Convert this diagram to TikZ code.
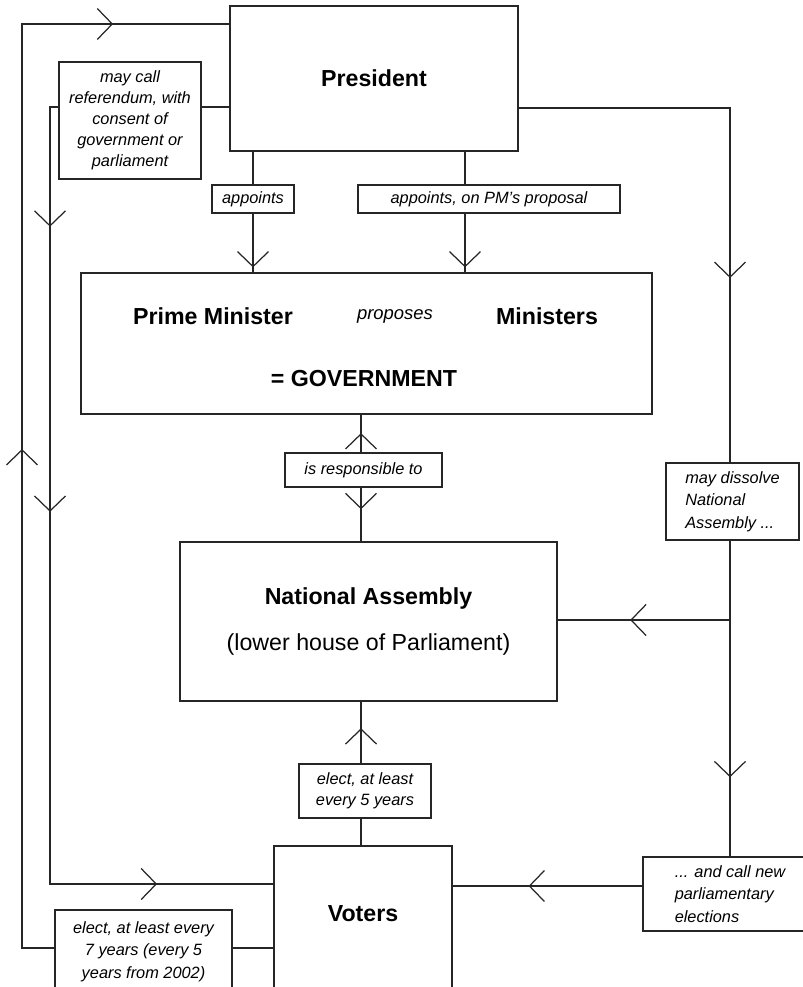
\documentclass[tikz,border=0pt]{standalone}
\usepackage{fontspec}
\setmainfont{Liberation Sans}
\usetikzlibrary{arrows.meta, decorations.markings}

\tikzset{
  box/.style={draw=black!85, line width=1.1pt, rectangle, inner sep=0pt, fill=white},
  big/.style={font=\fontsize{13.2}{16}\selectfont\bfseries},
  lbl/.style={draw=black!85, line width=1.1pt, fill=white, inner sep=2pt, align=center,
              font=\fontsize{9.3}{12}\selectfont\itshape},
  lbl wide/.style={lbl, font=\fontsize{9.3}{12.8}\selectfont\itshape},
  link/.style={draw=black!85, line width=1.1pt, line cap=rect},
  chev/.style={postaction={decorate, decoration={markings,
      mark=at position #1 with {\arrow{Straight Barb[length=0.3cm, width=0.62cm, line width=0.7pt]}}}}}
}

\begin{document}
\begin{tikzpicture}[x=0.02cm, y=-0.02cm]
  \useasboundingbox (0,0) rectangle (803,987);
  \fill[white] (0,0) rectangle (803,987);
  \clip (0,0) rectangle (803,987);

  % Organe
  \node[box, big, minimum width=5.76cm, minimum height=2.9cm] (pres) at (374,78.5) {President};
  \node[box, minimum width=11.42cm, minimum height=2.82cm] (gov) at (366.5,343.5) {};
  \node[big] (pmin) at (213,316) {Prime Minister};
  \node[font=\fontsize{10.5}{12}\selectfont\itshape] (props) at (395,316) {proposes};
  \node[big] (mins) at (547,316) {Ministers};
  \node[big] (govt) at (364,379) {= GOVERNMENT};
  \node[box, align=center, font=\fontsize{13.2}{16}\selectfont,
        minimum width=7.54cm, minimum height=3.18cm] (na) at (368.5,621.5)
        {\textbf{National Assembly}\\[10.5pt](lower house of Parliament)};
  \node[box, big, minimum width=3.56cm, text height=1.52cm, text depth=1.65cm,
        anchor=north] (voters) at (363,845) {Voters};

  % Beschriftungen
  \node[lbl, minimum width=2.84cm, minimum height=2.34cm] (ref) at (130,120.5)
        {may call\\referendum, with\\consent of\\government or\\parliament};
  \node[lbl, minimum width=1.64cm, minimum height=0.56cm] (ap) at (253,199) {appoints};
  \node[lbl, minimum width=5.24cm, minimum height=0.56cm] (ap2) at (489,199) {appoints, on PM's proposal};
  \node[lbl, minimum width=3.14cm, minimum height=0.68cm] (resp) at (363.5,470) {is responsible to};
  \node[lbl wide, align=left, minimum width=2.66cm, minimum height=1.54cm] (md) at (732.5,501.5)
        {may dissolve\\National\\Assembly ...};
  \node[lbl, minimum width=2.64cm, minimum height=1.08cm] (e5) at (365,791) {elect, at least\\every 5 years};
  \node[lbl wide, align=left, minimum width=3.48cm, minimum height=1.48cm] (cn) at (730,894)
        {... and call new\\parliamentary\\elections};
  \node[lbl wide, minimum width=3.54cm, minimum height=1.66cm] (e7) at (143.5,951.5)
        {elect, at least every\\7 years (every 5\\years from 2002)};

  % Knickpunkte
  \coordinate (lb) at (22,948);
  \coordinate (lt) at (22,24);
  \coordinate (rt) at (50,107);
  \coordinate (rb) at (50,884);
  \coordinate (ax) at (361,0);
  \coordinate (ap2x) at (465,0);
  \coordinate (rtop) at (730,108);
  \coordinate (rmid) at (730,620);
  \coordinate (cy) at (0,886);

  % Wahl des Praesidenten
  \draw[link] (voters.west |- lb) -- (e7.east |- lb);
  \draw[link] (e7.west |- lb) -- (lb);
  \draw[link, chev=0.54] (lb) -- (lt);
  \draw[link, chev=0.44] (lt) -- (lt -| pres.west);

  % Referendum
  \draw[link] (pres.west |- rt) -- (ref.east |- rt);
  \draw[link] (ref.west |- rt) -- (rt);
  \draw[link, chev=0.154, chev=0.521] (rt) -- (rb);
  \draw[link, chev=0.48] (rb) -- (rb -| voters.west);

  % Ernennung
  \draw[link] (pres.south -| ap) -- (ap.north);
  \draw[link, chev=0.92] (ap.south) -- (ap.south |- gov.north);
  \draw[link] (pres.south -| ap2x) -- (ap2.north -| ap2x);
  \draw[link, chev=0.92] (ap2.south -| ap2x) -- (gov.north -| ap2x);

  % Verantwortung
  \draw[link, chev=0.51] (resp.north -| ax) -- (gov.south -| ax);
  \draw[link, chev=0.4] (resp.south -| ax) -- (na.north -| ax);

  % Parlamentswahl
  \draw[link] (voters.north -| ax) -- (e5.south -| ax);
  \draw[link, chev=0.57] (e5.north -| ax) -- (na.south -| ax);

  % Aufloesung
  \draw[link] (pres.east |- rtop) -- (rtop);
  \draw[link, chev=0.48] (rtop) -- (md.north -| rtop);
  \draw[link, chev=0.75] (md.south -| rtop) -- (cn.north -| rtop);
  \draw[link, chev=0.58] (rmid) -- (na.east |- rmid);
  \draw[link, chev=0.6] (cn.west |- cy) -- (voters.east |- cy);
\end{tikzpicture}
\end{document}
